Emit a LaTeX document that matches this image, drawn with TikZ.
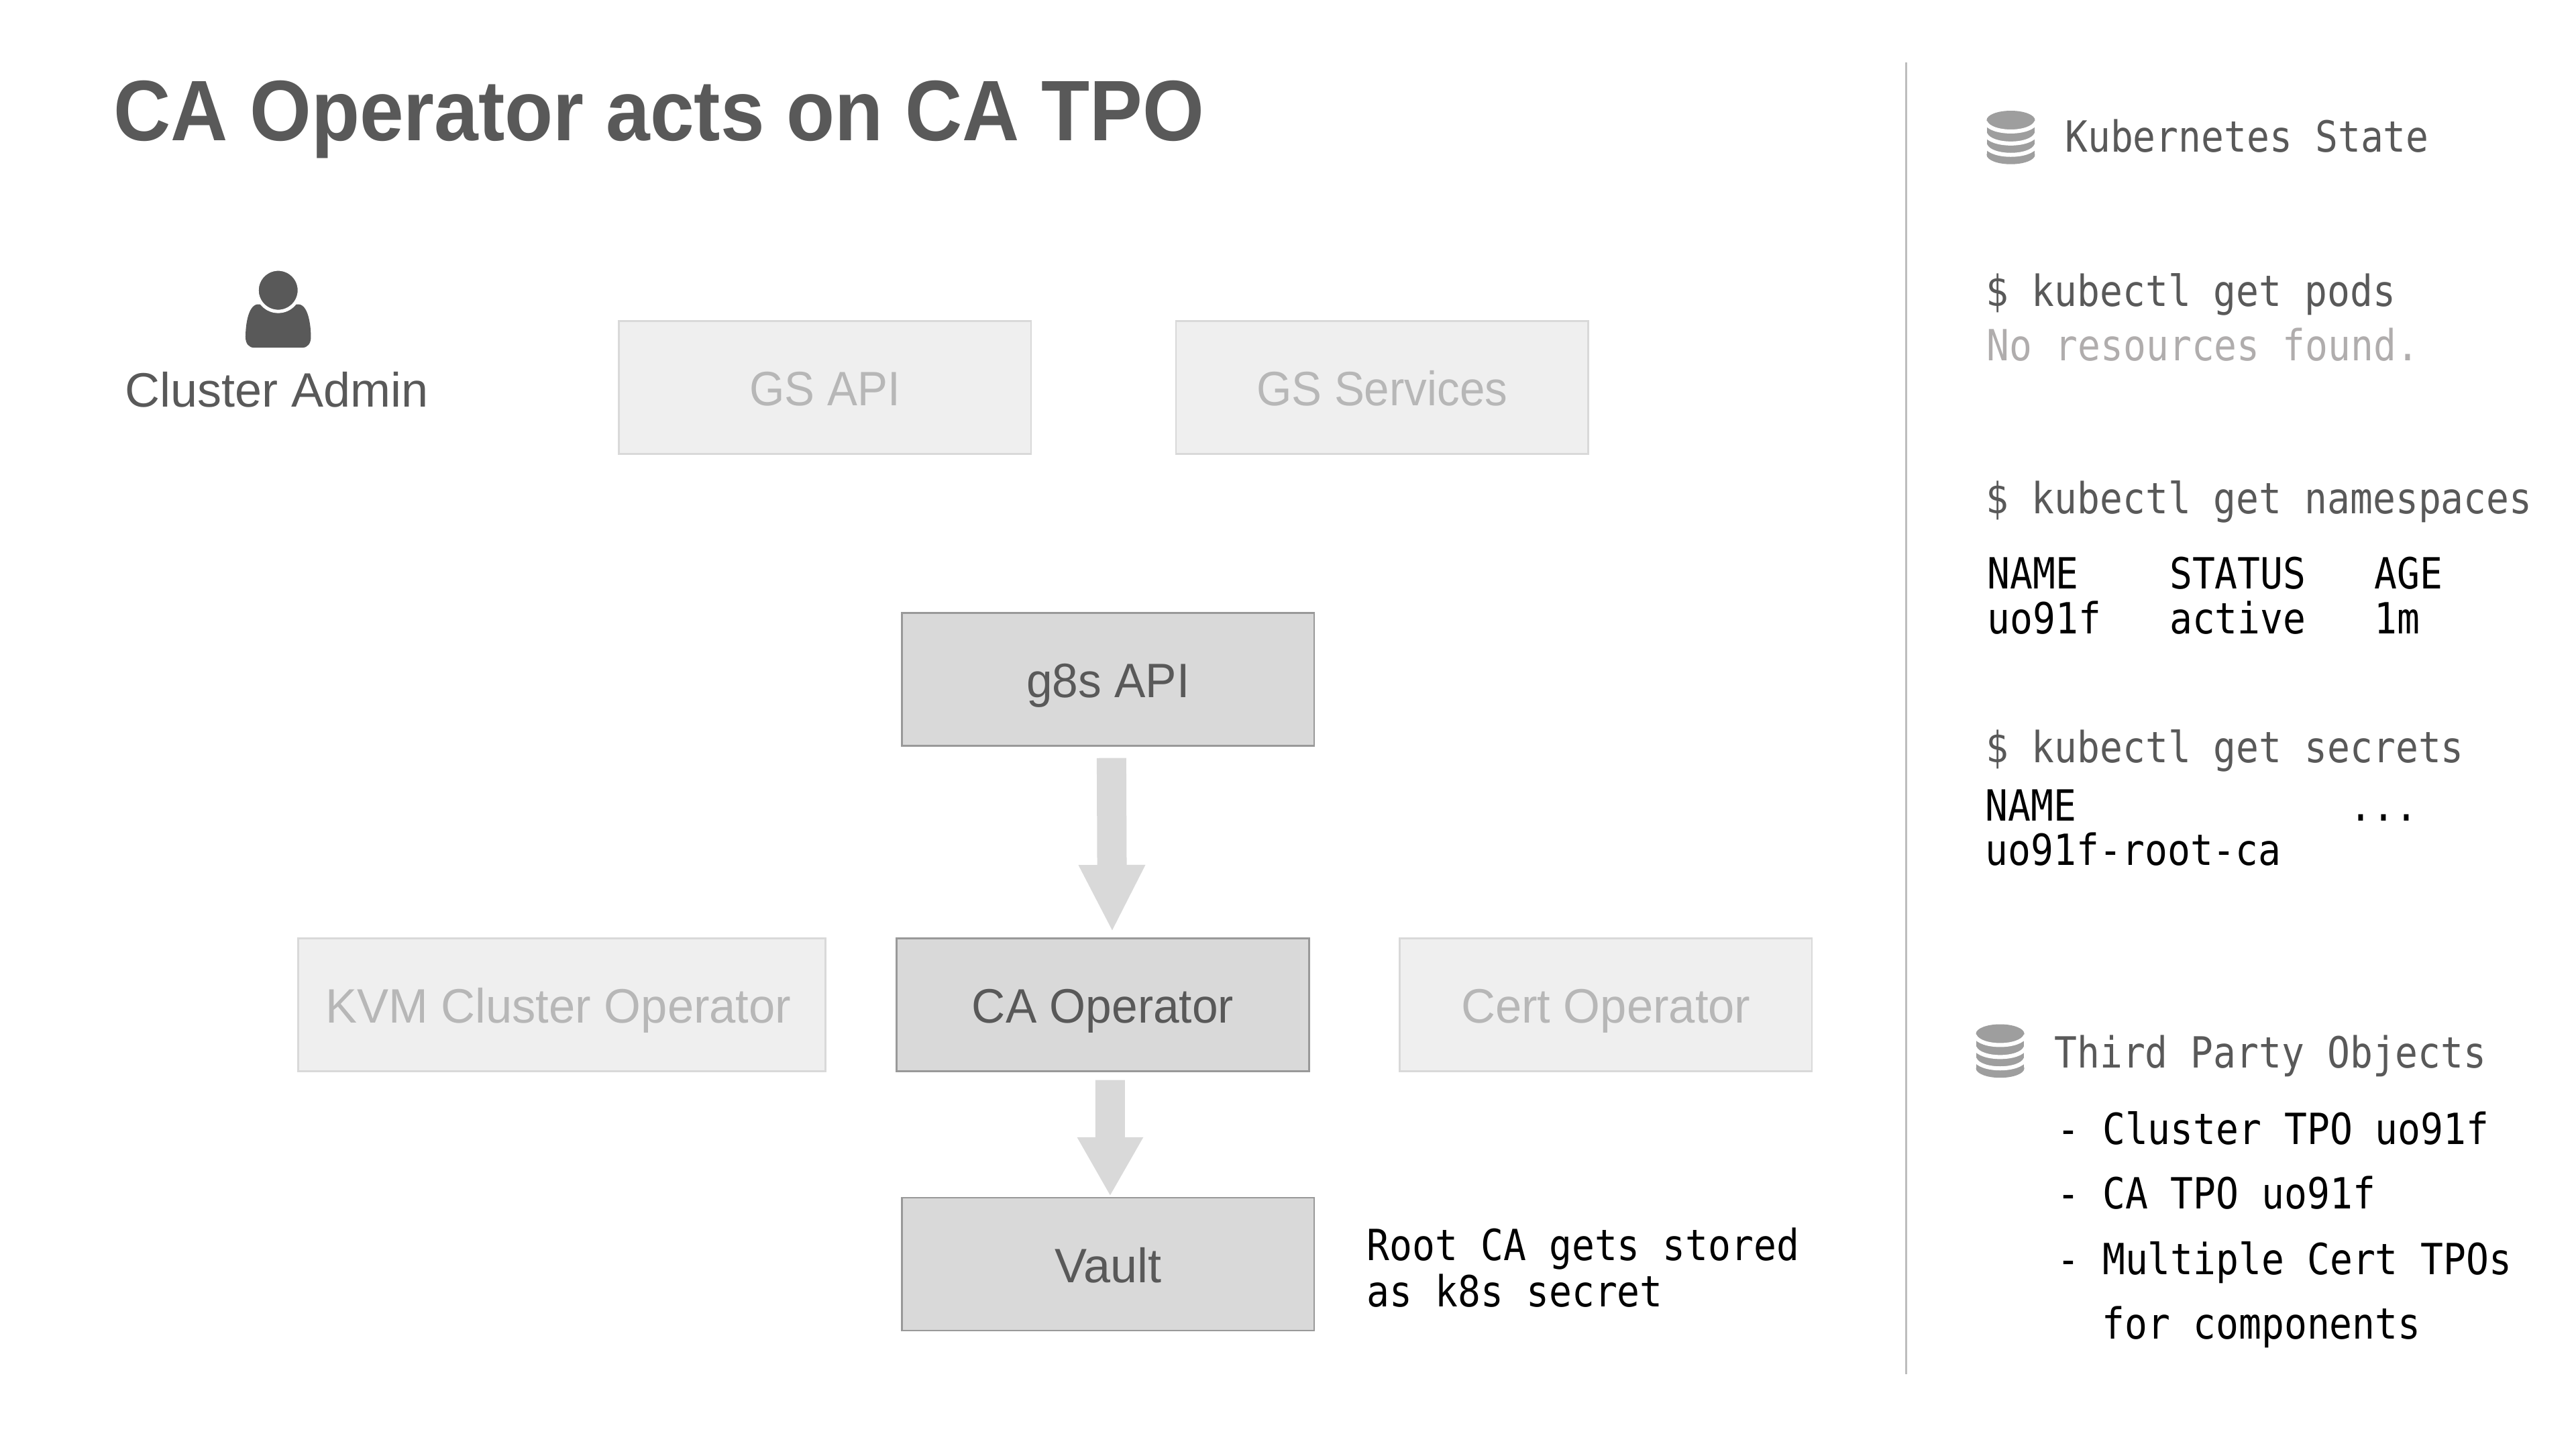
\documentclass[tikz,border=0pt]{standalone}
\usepackage{fontspec}
\usetikzlibrary{arrows.meta}
\setmainfont{Liberation Sans}
\newfontfamily\monof[FakeStretch=0.88]{DejaVu Sans Mono}
\newfontfamily\titlef[FakeStretch=0.922]{Liberation Sans}
\newfontfamily\boxf[FakeStretch=0.965]{Liberation Sans}
\newfontfamily\boxnarrowf[FakeStretch=0.935]{Liberation Sans}
\newfontfamily\boxwidef[FakeStretch=0.98]{Liberation Sans}
\definecolor{ink}{HTML}{595959}
\definecolor{paleink}{HTML}{B7B7B7}
\definecolor{mutedink}{HTML}{B0ADAD}
\definecolor{palefill}{HTML}{EFEFEF}
\definecolor{paleedge}{HTML}{D9D9D9}
\definecolor{darkfill}{HTML}{D9D9D9}
\definecolor{darkedge}{HTML}{999999}
\definecolor{iconink}{HTML}{9E9E9E}
\definecolor{rulegray}{HTML}{BDBDBD}
\tikzset{
  x=0.9945pt,y=-0.9945pt,
  boxbase/.style={rectangle,minimum width=614.6pt,minimum height=198pt,line width=2.5pt,inner sep=0pt,
    font=\boxf\fontsize{72}{72}\selectfont,text height=54pt,text depth=0pt},
  palebox/.style={boxbase,draw=paleedge,fill=palefill,text=paleink},
  darkbox/.style={boxbase,draw=darkedge,fill=darkfill,text=ink},
  narrowlabel/.style={font=\boxnarrowf\fontsize{72}{72}\selectfont},
  widelabel/.style={font=\boxwidef\fontsize{72}{72}\selectfont},
  mono/.style={anchor=base west,inner sep=0pt,font=\monof\fontsize{64}{64}\selectfont,text=ink},
  monoblack/.style={mono,text=black},
  blockarrow/.style={draw=darkfill,line width=44pt},
  dbicon/.pic={
    \fill[iconink] (-36,14) rectangle (36,66);
    \fill[iconink] (0,14) ellipse [x radius=36pt,y radius=14pt];
    \fill[iconink] (0,66) ellipse [x radius=36pt,y radius=14pt];
    \foreach \q in {17,35,52}
      \draw[white,line width=6pt] (-38,\q) .. controls (-30,\q+18.7) and (30,\q+18.7) .. (38,\q);
  }
}
\begin{document}
\begin{tikzpicture}
\useasboundingbox (0,0) rectangle (3861.2,2172);
\node[anchor=base west,inner sep=0pt,text=ink,font=\titlef\bfseries\fontsize{128}{128}\selectfont] (title) at (170,211) {CA Operator acts on CA TPO};

% person
\fill[ink] (386,456) .. controls (371,458) and (368,490) .. (368,505)
  .. controls (368,515) and (373,521) .. (381,521) -- (453,521)
  .. controls (461,521) and (466,515) .. (466,505)
  .. controls (466,490) and (463,458) .. (448,456) -- cycle;
\filldraw[fill=ink,draw=white,line width=5pt] (417,435) ellipse [x radius=31.5pt,y radius=31.5pt];
\node[anchor=base,inner sep=0pt,text=ink,font=\fontsize{72}{72}\selectfont] (admin) at (415,610) {Cluster Admin};

% boxes
\node[palebox,narrowlabel] (gsapi) at (1236.5,580.5) {GS API};
\node[palebox,narrowlabel] (gssvc) at (2071.5,580.5) {GS Services};
\node[darkbox] (g8s) at (1661,1018) {g8s API};
\node[palebox,widelabel,minimum width=786pt] (kvm) at (842,1505.5) {\hspace*{-10pt}KVM Cluster Operator};
\node[darkbox] (ca) at (1653,1505.5) {CA Operator};
\node[palebox,widelabel] (cert) at (2407,1505.5) {Cert Operator};
\node[darkbox,font=\fontsize{72}{72}\selectfont] (vault) at (1661,1894.5) {Vault};

% arrows
\draw[blockarrow,-{Triangle[width=92pt,length=100pt]}] ([xshift=5pt,yshift=-17pt]g8s.south) -- ([xshift=14pt,yshift=8pt]ca.north);
\draw[blockarrow,-{Triangle[width=92pt,length=88pt]}] ([xshift=11pt,yshift=-12pt]ca.south) -- ([xshift=3pt,yshift=1pt]vault.north);

% divider
\coordinate (ruletop) at (2857,94);
\coordinate (rulebot) at (2857,2059);
\draw[rulegray,line width=3pt] (ruletop) -- (rulebot);

% right panel
\pic at (3014,166) {dbicon};
\node[mono] (k8sstate) at (3095,228) {Kubernetes State};
\node[mono] (pods) at (2977,459) {\$ kubectl get pods};
\node[mono,text=mutedink] (nores) at (2978,540) {No resources found.};
\node[mono] (nsq) at (2977,770) {\$ kubectl get namespaces};
\node[monoblack] (nshead) at (2979,882) {NAME~~~~STATUS~~~AGE};
\node[monoblack] (nsrow) at (2979,950) {uo91f~~~active~~~1m};
\node[mono] (secq) at (2977,1143) {\$ kubectl get secrets};
\node[monoblack] (sechead) at (2976,1230) {NAME~~~~~~~~~~~~...};
\node[monoblack] (secrow) at (2976,1297) {uo91f-root-ca};
\pic at (2998,1535) {dbicon};
\node[mono] (tpo) at (3079,1600) {Third Party Objects};
\node[monoblack] (tpoa) at (3083,1715) {- Cluster TPO uo91f};
\node[monoblack] (tpob) at (3083,1811) {- CA TPO uo91f};
\node[monoblack] (tpoc) at (3083,1910) {- Multiple Cert TPOs};
\node[monoblack] (tpod) at (3151,2006) {for components};
\node[monoblack] (roota) at (2049,1889) {Root CA gets stored};
\node[monoblack] (rootb) at (2049,1958) {as k8s secret};
\end{tikzpicture}
\end{document}
